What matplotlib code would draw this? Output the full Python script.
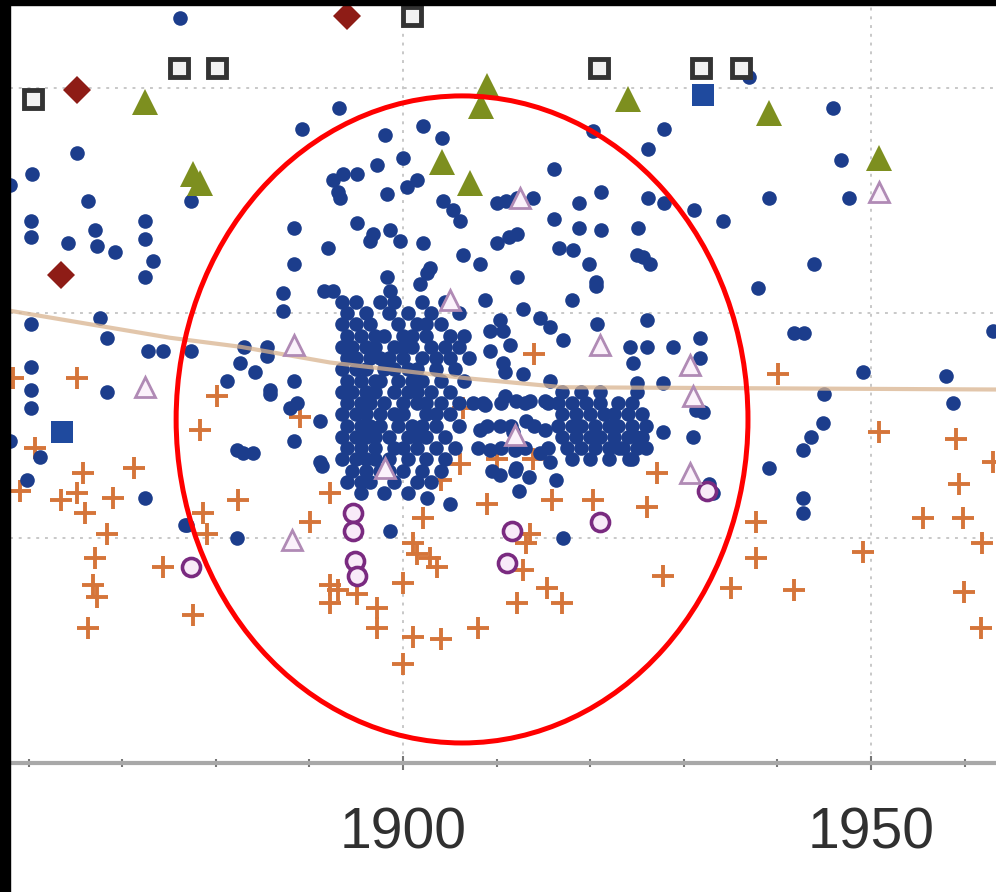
import matplotlib
matplotlib.use("Agg")
import matplotlib.pyplot as plt
from matplotlib.patches import Ellipse, Rectangle
from matplotlib.ticker import MultipleLocator

plt.rcParams['font.family'] = ['Liberation Sans', 'DejaVu Sans']

#### DATA (x = year, y = value; grid lines at 1, 2, 3)

# scattered navy dots
blue_years = [1876.2, 1865.2, 1860.3, 1858.0, 1866.3, 1860.2, 1860.2, 1864.2, 1867.1, 1867.3,
              1869.2, 1872.4, 1872.4, 1873.3, 1872.4, 1877.3, 1893.1, 1889.2, 1898.1, 1902.1,
              1904.2, 1897.2, 1900.0, 1888.3, 1892.0, 1888.3, 1901.1, 1892.5, 1893.3, 1895.1,
              1898.3, 1900.4, 1901.5, 1904.3, 1906.1, 1895.1, 1896.8, 1899.7, 1902.1, 1898.3,
              1902.6, 1906.4, 1908.2, 1891.5, 1892.5, 1887.2, 1898.6, 1901.8, 1910.0, 1912.2,
              1910.0, 1912.2, 1912.2, 1902.9, 1898.6, 1896.5, 1905.3, 1893.6, 1893.0,
              1920.3, 1927.9, 1926.2, 1916.1, 1945.9, 1946.8, 1947.6, 1939.1, 1931.1, 1934.2,
              1943.9, 1937.9, 1921.1, 1918.8, 1916.1, 1918.8, 1921.1, 1925.1, 1926.2, 1927.9,
              1925.6, 1916.7, 1919.9, 1920.6, 1911.0, 1913.9, 1911.3, 1918.2, 1925.0, 1926.4,
              1918.0, 1912.8, 1914.6, 1915.7, 1910.7, 1911.4, 1917.1, 1920.7, 1926.1, 1924.2,
              1926.1, 1928.8, 1931.7, 1931.7, 1924.6, 1912.8, 1915.7, 1925.0, 1927.8, 1937.0,
              1920.6,
              1941.8, 1942.8, 1949.1, 1945.0, 1944.9, 1943.6, 1942.7, 1939.1, 1942.7, 1942.7,
              1958.0, 1958.8, 1963.0,
              1912.1, 1913.1, 1911.7, 1927.8, 1931.3, 1931.0, 1932.7, 1933.1, 1913.5, 1916.3,
              1917.1, 1912.1, 1912.4, 1932.0, 1924.1, 1924.9, 1923.1, 1910.7,
              1860.2, 1860.2, 1860.2, 1860.2, 1858.0, 1861.2, 1859.8, 1867.6, 1868.4, 1872.7,
              1874.4, 1868.4, 1872.4, 1877.3, 1876.9, 1882.3, 1882.3, 1884.0, 1882.6, 1884.2,
              1881.2, 1885.8, 1888.3, 1887.9, 1891.1, 1888.3, 1891.1, 1885.5, 1887.2, 1883.0,
              1885.5, 1885.8, 1888.7, 1891.3, 1882.9, 1876.7,
              1902.6, 1905.0, 1898.6, 1909.3, 1910.9, 1912.0,
              1908.8, 1910.4, 1909.3, 1910.9, 1908.8, 1910.4, 1913.6, 1915.2, 1909.3, 1914.6,
              1910.4, 1915.7, 1915.2, 1908.2]
blue_vals = [3.31, 2.71, 2.62, 2.57, 2.50, 2.41, 2.34, 2.31, 2.37, 2.30,
             2.27, 2.41, 2.33, 2.23, 2.16, 2.50, 2.91, 2.82, 2.79, 2.83,
             2.78, 2.66, 2.69, 2.38, 2.29, 2.22, 3.36, 2.59, 2.51, 2.62,
             2.53, 2.56, 2.59, 2.50, 2.41, 2.40, 2.35, 2.32, 2.31, 2.16,
             2.18, 2.26, 2.22, 2.10, 2.10, 2.09, 2.10, 2.13, 2.49, 2.51,
             2.31, 2.35, 2.16, 2.20, 2.37, 2.32, 2.46, 2.62, 2.54,
             2.81, 2.82, 2.73, 2.64, 2.91, 2.68, 2.51, 2.51, 2.46, 2.41,
             2.22, 2.11, 2.54, 2.49, 2.42, 2.38, 2.37, 2.38, 2.51, 2.49,
             2.25, 2.29, 2.22, 2.14, 2.50, 2.51, 2.34, 2.28, 2.26, 2.22,
             2.06, 2.02, 1.98, 1.94, 1.92, 1.86, 1.88, 1.95, 1.97, 1.85,
             1.85, 1.85, 1.89, 1.80, 1.78, 1.73, 1.70, 1.69, 1.69, 3.05,
             2.12,
             1.91, 1.91, 1.74, 1.64, 1.51, 1.45, 1.39, 1.31, 1.18, 1.11,
             1.72, 1.60, 1.92,
             1.61, 1.52, 1.47, 1.47, 1.57, 1.45, 1.24, 1.20, 1.27, 1.26,
             1.00, 1.31, 1.21, 1.56, 1.35, 1.45, 1.40, 1.78,
             1.95, 1.76, 1.66, 1.58, 1.43, 1.36, 1.26, 1.98, 1.89, 1.83,
             1.83, 1.65, 1.18, 1.83, 1.06, 1.00, 1.39, 1.38, 1.78, 1.74,
             1.70, 1.66, 1.70, 1.58, 1.52, 1.43, 1.34, 1.85, 2.01, 1.85,
             1.81, 1.64, 1.60, 1.32, 1.38, 1.06,
             1.18, 1.15, 1.03, 1.92, 1.63, 1.39,
             2.06, 1.97, 1.83, 1.74, 1.59, 1.50, 1.61, 1.48, 1.39, 1.38,
             1.28, 1.34, 1.61, 1.48]

# dense core of navy dots around 1893-1907 (value, years in that row)
core_rows = [
    (2.05, [1893.5, 1895.0, 1897.5, 1899.0, 1902.0, 1904.5]),
    (2.00, [1894.0, 1896.0, 1898.5, 1900.5, 1903.0, 1906.0]),
    (1.95, [1893.5, 1895.0, 1896.5, 1899.5, 1901.5, 1902.5, 1904.0]),
    (1.90, [1894.0, 1895.5, 1897.0, 1898.0, 1900.0, 1901.0, 1902.5, 1905.0, 1906.5]),
    (1.85, [1893.5, 1894.5, 1896.0, 1897.0, 1899.0, 1900.0, 1901.0, 1903.0, 1904.5, 1906.0]),
    (1.80, [1894.0, 1895.0, 1896.5, 1897.5, 1898.5, 1900.0, 1902.0, 1903.5, 1905.0, 1907.0]),
    (1.75, [1893.5, 1895.0, 1896.0, 1898.0, 1899.0, 1900.5, 1901.5, 1903.5, 1905.5]),
    (1.70, [1894.0, 1895.5, 1897.0, 1897.5, 1899.5, 1901.0, 1902.0, 1904.0, 1906.5]),
    (1.65, [1893.5, 1894.5, 1896.0, 1897.0, 1899.0, 1900.5, 1901.5, 1903.0, 1905.0]),
    (1.60, [1894.0, 1895.5, 1896.5, 1898.0, 1900.0, 1901.5, 1902.5, 1904.0, 1906.0, 1907.5]),
    (1.55, [1893.5, 1895.0, 1896.0, 1897.5, 1899.0, 1900.0, 1902.5, 1903.5, 1905.0]),
    (1.50, [1894.0, 1895.5, 1896.5, 1897.5, 1899.5, 1901.0, 1902.0, 1903.5, 1906.0]),
    (1.45, [1893.5, 1895.0, 1896.0, 1897.0, 1898.5, 1900.5, 1901.5, 1902.5, 1904.5]),
    (1.40, [1894.0, 1895.5, 1897.0, 1899.0, 1900.0, 1901.5, 1903.5, 1905.5]),
    (1.35, [1893.5, 1895.0, 1896.0, 1897.0, 1898.5, 1900.5, 1902.5, 1904.5]),
    (1.30, [1894.5, 1896.0, 1897.5, 1898.5, 1900.0, 1902.0, 1904.0]),
    (1.25, [1894.0, 1895.5, 1896.5, 1899.0, 1901.5, 1903.0]),
    (1.20, [1895.5, 1898.0, 1900.5]),
]

# patch linking the core to the right-hand blob, around 1908-1916
bridge_rows = [
    (1.60, [1908.5, 1910.5, 1913.0, 1915.5]),
    (1.50, [1909.0, 1911.5, 1914.0]),
    (1.40, [1908.0, 1910.5, 1913.0, 1915.5]),
    (1.30, [1909.5, 1912.0]),
]

# second dense patch around 1917-1926
blob_rows = [
    (1.65, [1917.0, 1919.0, 1921.0, 1925.0]),
    (1.60, [1916.5, 1918.0, 1919.5, 1921.0, 1923.0, 1924.5]),
    (1.55, [1917.0, 1918.5, 1920.0, 1921.5, 1922.5, 1924.0, 1925.5]),
    (1.50, [1916.5, 1918.0, 1919.0, 1920.5, 1922.0, 1923.0, 1924.5, 1926.0]),
    (1.45, [1917.0, 1918.5, 1920.0, 1921.0, 1922.5, 1924.0, 1925.5]),
    (1.40, [1917.5, 1919.0, 1920.5, 1922.0, 1923.5, 1925.0, 1926.0]),
    (1.35, [1918.0, 1920.0, 1922.0, 1924.5]),
]

# larger navy squares
bsq_years = [1863.6, 1932.0]
bsq_vals = [1.47, 2.97]

# orange plus signs
plus_years = [1858.3, 1865.2, 1860.7, 1865.8, 1865.2, 1869.0, 1866.0, 1868.4, 1871.2, 1863.4,
              1867.1, 1866.9, 1867.3, 1866.3, 1874.4, 1877.5, 1859.1,
              1878.3, 1880.1, 1882.4, 1878.6, 1879.1, 1889.0,
              1892.2, 1890.1, 1892.2, 1892.2, 1895.1, 1897.2, 1897.2, 1900.0, 1901.1, 1900.0,
              1904.0, 1903.6, 1908.0, 1901.5, 1906.4, 1906.1, 1910.0, 1902.1, 1904.0, 1902.9,
              1909.0, 1912.2, 1893.0, 1901.1,
              1914.0, 1913.9, 1915.9, 1913.6, 1912.8, 1915.4, 1917.0, 1920.3, 1926.1, 1927.1,
              1927.8, 1913.1,
              1940.1, 1950.8, 1959.1, 1959.4, 1955.5, 1959.8, 1937.7, 1961.9, 1949.1, 1937.7,
              1935.0, 1941.8, 1959.9, 1961.7, 1963.0]
plus_vals = [1.71, 1.71, 1.40, 1.29, 1.20, 1.18, 1.11, 1.02, 1.31, 1.17,
             0.91, 0.79, 0.74, 0.60, 0.87, 0.66, 1.21,
             1.48, 1.63, 1.17, 1.11, 1.02, 1.54,
             1.20, 1.07, 0.79, 0.71, 0.75, 0.69, 0.60, 0.80, 0.56, 0.44,
             0.55, 0.87, 0.60, 0.93, 1.58, 1.33, 1.35, 1.09, 1.26, 0.91,
             1.15, 0.71, 0.77, 0.98,
             1.82, 1.35, 1.17, 1.02, 0.86, 0.78, 0.71, 1.17, 1.14, 1.29,
             0.83, 0.98,
             1.73, 1.47, 1.44, 1.24, 1.09, 1.09, 1.07, 0.98, 0.94, 0.91,
             0.78, 0.77, 0.76, 0.60, 1.34]

# purple open circles
circ_years = [1877.3, 1894.7, 1894.7, 1894.9, 1895.1, 1911.1, 1911.6, 1921.0, 1932.5]
circ_vals = [0.87, 1.11, 1.03, 0.90, 0.83, 0.89, 1.03, 1.07, 1.21]

# light purple open triangles
ltri_years = [1872.4, 1888.3, 1905.0, 1888.1, 1912.5, 1950.8, 1921.0, 1930.7, 1931.0, 1930.7,
              1912.0, 1898.1]
ltri_vals = [1.67, 1.86, 2.06, 0.99, 2.51, 2.54, 1.86, 1.77, 1.63, 1.29,
             1.46, 1.31]

# olive filled triangles
gtri_years = [1872.4, 1877.5, 1878.3, 1909.0, 1908.3, 1904.2, 1907.2, 1924.0, 1939.1, 1950.8]
gtri_vals = [2.94, 2.62, 2.58, 3.01, 2.92, 2.67, 2.58, 2.95, 2.89, 2.69]

# black open squares
ksq_years = [1860.5, 1876.1, 1880.1, 1901.0, 1920.9, 1931.8, 1936.1]
ksq_vals = [2.95, 3.09, 3.09, 3.32, 3.09, 3.09, 3.09]

# dark red diamonds
dia_years = [1865.2, 1863.4, 1894.0]
dia_vals = [2.99, 2.17, 3.32]

# smoothed trend line
trend_years = [1858.0, 1875.1, 1882.6, 1892.2, 1906.8, 1917.1, 1963.3]
trend_vals = [2.01, 1.89, 1.85, 1.78, 1.71, 1.67, 1.66]

# highlight ellipse (centre year, centre value, width in years, height in value units)
ell_x, ell_y, ell_w, ell_h = 1906.3, 1.527, 61.1, 2.876

x_labels = [1900, 1950]

#### FIGURE
fig = plt.figure(figsize=(9.96, 8.92), dpi=100)
ax = fig.add_axes([10 / 996, 129 / 892, 986 / 996, 758 / 892])

dense_rows = core_rows + bridge_rows + blob_rows
dense_x = [yr for v, yrs in dense_rows for yr in yrs]
dense_y = [v for v, yrs in dense_rows for yr in yrs]

navy = '#1c3d8c'
ax.plot(plus_years, plus_vals, linestyle='none', marker='+', ms=16, mew=2.8,
        color='#d5753a', zorder=3)
ax.plot(blue_years + dense_x, blue_vals + dense_y, linestyle='none',
        marker='o', ms=10.5, mew=0, color=navy, zorder=4)
ax.plot(bsq_years, bsq_vals, linestyle='none', marker='s', ms=16, mew=0,
        color='#1f4a9e', zorder=4)
ax.plot(trend_years, trend_vals, color='#d9b48f', lw=3, alpha=0.75, zorder=5)
ax.plot(circ_years, circ_vals, linestyle='none', marker='o', ms=13, mew=2.6,
        mec='#7a2a80', mfc='#f8eaf8', zorder=6)
ax.plot(ltri_years, ltri_vals, linestyle='none', marker='^', ms=15, mew=2,
        mec='#b08ab5', mfc='#fbf2fb', zorder=6)
ax.plot(gtri_years, gtri_vals, linestyle='none', marker='^', ms=19, mew=0,
        color='#7d8f1f', zorder=7)
ax.plot(ksq_years, ksq_vals, linestyle='none', marker='s', ms=13, mew=3.5,
        mec='#333333', mfc='#f2f2f2', zorder=7)
ax.plot(dia_years, dia_vals, linestyle='none', marker='D', ms=14, mew=0,
        color='#8e1c16', zorder=7)

ax.add_patch(Ellipse((ell_x, ell_y), ell_w, ell_h, fill=False, edgecolor='#ff0000',
                     lw=3.6, zorder=10))

ax.set_xlim(1858.0, 1963.35)
ax.set_ylim(0, 3.369)
ax.set_xticks(x_labels)
ax.set_xticklabels([str(x) for x in x_labels])
ax.xaxis.set_minor_locator(MultipleLocator(10))
ax.set_yticks([1, 2, 3])
ax.grid(True, which='major', color='#c8c8c8', linestyle=(0, (1.5, 3)), linewidth=1.4)
ax.tick_params(axis='y', length=0, labelleft=False)
ax.tick_params(axis='x', which='both', direction='inout', color='#777777', width=1.5)
ax.tick_params(axis='x', which='major', length=10, pad=26, labelsize=41,
               labelcolor='#303030')
ax.tick_params(axis='x', which='minor', length=6)
for side in ['left', 'right', 'top']:
    ax.spines[side].set_visible(False)
ax.spines['bottom'].set_color('#a8a8a8')
ax.spines['bottom'].set_linewidth(3)

# black border of the cropped screenshot
fig.patches.append(Rectangle((0, 0), 10 / 996, 1, transform=fig.transFigure,
                             color='black', zorder=20))
fig.patches.append(Rectangle((0, 1 - 5 / 892), 1, 5 / 892, transform=fig.transFigure,
                             color='black', zorder=20))

fig.savefig('out.png', dpi=100)
